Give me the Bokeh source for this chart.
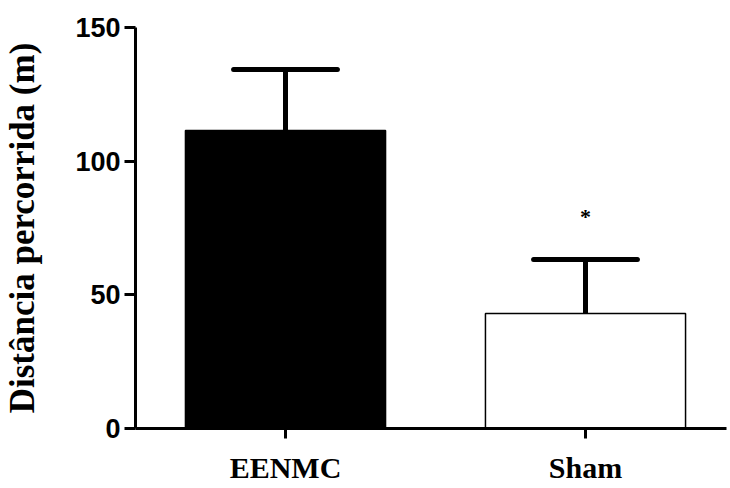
from bokeh.plotting import figure
from bokeh.models import Range1d, FixedTicker, ColumnDataSource
from bokeh.core.properties import value
from bokeh.embed import file_html
from bokeh.resources import INLINE

# data
groups = ["EENMC", "Sham"]
x_pos = [1, 2]
means = [111.5, 43.0]
errors = [22.8, 20.2]
fills = ["black", "white"]
marks = ["", "*"]
y_ticks = [0, 50, 100, 150]

upper = [m + e for m, e in zip(means, errors)]
cap_half = 0.173
src = ColumnDataSource(dict(
    x=x_pos, top=means, upper=upper, fill=fills,
    x0=[x - cap_half for x in x_pos], x1=[x + cap_half for x in x_pos],
    mark=marks, mark_y=[u + 16.0 for u in upper],
))

p = figure(frame_width=591, frame_height=401, min_border_left=129, min_border_top=27,
           min_border_right=2, min_border_bottom=52,
           x_range=Range1d(0.5, 2.47), y_range=Range1d(0, 150),
           output_backend="svg", toolbar_location=None)
p.outline_line_color = None
p.xgrid.visible = False
p.ygrid.visible = False
p.background_fill_color = "white"
p.border_fill_color = "white"

# error bars (stem + cap)
p.segment(x0="x", y0="top", x1="x", y1="upper", source=src, line_color="black", line_width=5)
p.segment(x0="x0", y0="upper", x1="x1", y1="upper", source=src, line_color="black",
          line_width=5, line_cap="round")
p.vbar(x="x", top="top", bottom=0, width=0.667, source=src, fill_color="fill",
       line_color="black", line_width=1.5)
p.text(x="x", y="mark_y", text="mark", source=src, text_align="center", text_baseline="middle",
       text_font=value("Liberation Serif"), text_font_style="bold", text_font_size="22px",
       text_color="black")

# y axis
ya = p.yaxis[0]
ya.ticker = FixedTicker(ticks=y_ticks)
ya.minor_tick_line_color = None
ya.major_tick_in = 0
ya.major_tick_out = 11
ya.major_tick_line_width = 3
ya.axis_line_width = 3
ya.major_label_text_font = "Liberation Sans"
ya.major_label_text_font_style = "bold"
ya.major_label_text_font_size = "27px"
ya.major_label_text_color = "black"
ya.major_label_standoff = 4
ya.axis_label = "Distância percorrida (m)"
ya.axis_label_text_font = "Liberation Serif"
ya.axis_label_text_font_style = "bold"
ya.axis_label_text_font_size = "35px"
ya.axis_label_text_color = "black"
ya.axis_label_standoff = 30

# x axis
xa = p.xaxis[0]
xa.ticker = FixedTicker(ticks=x_pos)
xa.major_label_overrides = {x: g for x, g in zip(x_pos, groups)}
xa.minor_tick_line_color = None
xa.major_tick_in = 0
xa.major_tick_out = 10
xa.major_tick_line_width = 3
xa.axis_line_width = 3
xa.major_label_text_font = "Liberation Serif"
xa.major_label_text_font_style = "bold"
xa.major_label_text_font_size = "30px"
xa.major_label_text_color = "black"
xa.major_label_standoff = 12

open("out.html", "w").write(file_html(p, INLINE))
